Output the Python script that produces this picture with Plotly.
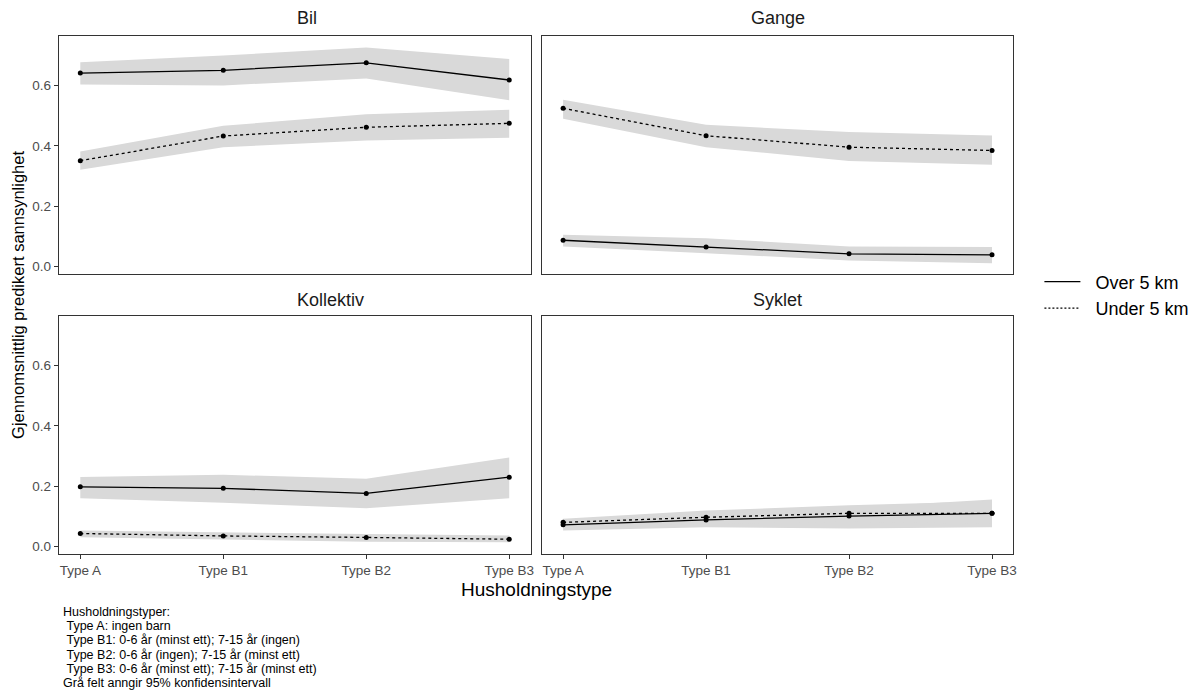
import plotly.graph_objects as go

# ---------------- data ----------------
categories = ["Type A", "Type B1", "Type B2", "Type B3"]
x_pos = [1, 2, 3, 4]
panels = ["Bil", "Gange", "Kollektiv", "Syklet"]
series_names = ["Over 5 km", "Under 5 km"]

bil_over = [0.642, 0.651, 0.676, 0.619]
bil_over_lo = [0.604, 0.601, 0.624, 0.552]
bil_over_hi = [0.678, 0.700, 0.727, 0.689]
bil_under = [0.351, 0.433, 0.462, 0.475]
bil_under_lo = [0.321, 0.396, 0.418, 0.427]
bil_under_hi = [0.382, 0.467, 0.505, 0.520]

gange_over = [0.087, 0.065, 0.042, 0.0385]
gange_over_lo = [0.066, 0.044, 0.020, 0.011]
gange_over_hi = [0.105, 0.094, 0.066, 0.065]
gange_under = [0.525, 0.434, 0.396, 0.385]
gange_under_lo = [0.490, 0.396, 0.350, 0.338]
gange_under_hi = [0.553, 0.470, 0.446, 0.435]

kollektiv_over = [0.198, 0.193, 0.176, 0.230]
kollektiv_over_lo = [0.160, 0.145, 0.127, 0.160]
kollektiv_over_hi = [0.231, 0.238, 0.225, 0.295]
kollektiv_under = [0.043, 0.035, 0.030, 0.024]
kollektiv_under_lo = [0.031, 0.024, 0.016, 0.014]
kollektiv_under_hi = [0.053, 0.046, 0.041, 0.036]

syklet_over = [0.072, 0.088, 0.101, 0.110]
syklet_over_lo = [0.053, 0.064, 0.060, 0.064]
syklet_over_hi = [0.085, 0.108, 0.128, 0.156]
syklet_under = [0.080, 0.097, 0.110, 0.110]
syklet_under_lo = [0.062, 0.075, 0.082, 0.075]
syklet_under_hi = [0.092, 0.119, 0.137, 0.150]

y_ticks = [0.0, 0.2, 0.4, 0.6]
y_tick_labels = ["0.0", "0.2", "0.4", "0.6"]

caption_lines = [
    "Husholdningstyper:",
    "\u00a0Type A: ingen barn",
    "\u00a0Type B1: 0-6 år (minst ett); 7-15 år (ingen)",
    "\u00a0Type B2: 0-6 år (ingen); 7-15 år (minst ett)",
    "\u00a0Type B3: 0-6 år (minst ett); 7-15 år (minst ett)",
    "Grå felt anngir 95% konfidensintervall",
]

panel_data = {
    "Bil": [(bil_over, bil_over_lo, bil_over_hi), (bil_under, bil_under_lo, bil_under_hi)],
    "Gange": [(gange_over, gange_over_lo, gange_over_hi), (gange_under, gange_under_lo, gange_under_hi)],
    "Kollektiv": [(kollektiv_over, kollektiv_over_lo, kollektiv_over_hi),
                  (kollektiv_under, kollektiv_under_lo, kollektiv_under_hi)],
    "Syklet": [(syklet_over, syklet_over_lo, syklet_over_hi), (syklet_under, syklet_under_lo, syklet_under_hi)],
}

# ---------------- layout geometry ----------------
W, H = 1204, 698
FONT = "Liberation Sans, Arial, sans-serif"
xdom = [[59 / W, 532 / W], [543 / W, 1016 / W]]
ydom = [[1 - 274 / H, 1 - 36 / H], [1 - 554 / H, 1 - 316 / H]]
strip_y = [18, 300]
dashes = ["solid", "3px,3px"]
RIBBON = "#D9D9D9"
TICKFONT = dict(family=FONT, size=13.5, color="#4D4D4D")

fig = go.Figure()

for i, name in enumerate(panels):
    row, col = divmod(i, 2)
    ax = "" if i == 0 else str(i + 1)
    xref, yref = "x" + ax, "y" + ax
    # ribbons first
    for s, (mid, lo, hi) in enumerate(panel_data[name]):
        fig.add_trace(go.Scatter(
            x=x_pos + x_pos[::-1], y=hi + lo[::-1], fill="toself", mode="lines",
            line=dict(width=0), fillcolor=RIBBON, hoverinfo="skip", showlegend=False,
            xaxis=xref, yaxis=yref))
    for s, (mid, lo, hi) in enumerate(panel_data[name]):
        fig.add_trace(go.Scatter(
            x=x_pos, y=mid, mode="lines+markers",
            line=dict(color="black", width=1.3, dash=dashes[s]),
            marker=dict(color="black", size=5),
            name=series_names[s], showlegend=False, xaxis=xref, yaxis=yref))
    bottom = row == 1
    left = col == 0
    fig.layout["xaxis" + ax] = dict(
        domain=xdom[col], anchor=yref, range=[0.85, 4.15],
        tickmode="array", tickvals=x_pos, ticktext=categories,
        showticklabels=bottom, ticks="outside" if bottom else "", ticklen=4,
        tickcolor="#333333", tickfont=TICKFONT,
        showline=True, mirror=True, linecolor="#333333", linewidth=1,
        showgrid=False, zeroline=False, fixedrange=True)
    fig.layout["yaxis" + ax] = dict(
        domain=ydom[row], anchor=xref, range=[-0.025, 0.765],
        tickmode="array", tickvals=y_ticks, ticktext=y_tick_labels,
        showticklabels=left, ticks="outside" if left else "", ticklen=4,
        tickcolor="#333333", tickfont=TICKFONT,
        showline=True, mirror=True, linecolor="#333333", linewidth=1,
        showgrid=False, zeroline=False, fixedrange=True)
    # strip title
    fig.add_annotation(
        x=(xdom[col][0] + xdom[col][1]) / 2, y=1 - strip_y[row] / H, xref="paper", yref="paper",
        yanchor="middle", text=name, showarrow=False,
        font=dict(family=FONT, size=18, color="#1A1A1A"))

# legend-only entries
for s in range(2):
    fig.add_trace(go.Scatter(
        x=[None], y=[None], mode="lines", name="\u00a0\u00a0" + series_names[s],
        line=dict(color="black", width=1.3, dash=["solid", "2px,2px"][s]), showlegend=True))

# axis titles
fig.add_annotation(x=(xdom[0][0] + xdom[1][1]) / 2, y=1 - 589 / H, xref="paper", yref="paper",
                   text="Husholdningstype", showarrow=False, yanchor="middle",
                   font=dict(family=FONT, size=19, color="black"))
fig.add_annotation(x=18 / W, y=1 - 295 / H, xref="paper", yref="paper",
                   text="Gjennomsnittlig predikert sannsynlighet", showarrow=False, textangle=-90,
                   xanchor="center", yanchor="middle",
                   font=dict(family=FONT, size=16.5, color="black"))
# caption, one line per annotation
for k, line in enumerate(caption_lines):
    fig.add_annotation(x=61 / W, y=1 - (612 + 14.2 * k) / H, xref="paper", yref="paper",
                       text=line, showarrow=False, align="left",
                       xanchor="left", yanchor="middle",
                       font=dict(family=FONT, size=12.5, color="black"))

fig.update_layout(
    width=W, height=H, margin=dict(l=0, r=0, t=0, b=0),
    paper_bgcolor="white", plot_bgcolor="white",
    legend=dict(x=1042 / W, y=1 - 295 / H, xanchor="left", yanchor="middle",
                font=dict(family=FONT, size=18, color="black"), bgcolor="rgba(0,0,0,0)",
                itemwidth=36, borderwidth=0),
)

fig.write_html("out.html")
